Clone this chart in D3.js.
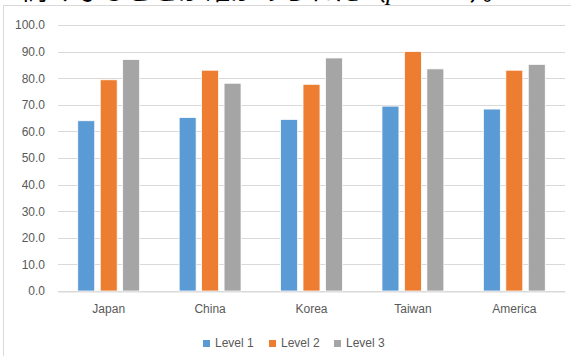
<!DOCTYPE html>
<html>
<head>
<meta charset="utf-8">
<script src="https://cdn.jsdelivr.net/npm/d3@7"></script>
<style>
  html, body { margin: 0; padding: 0; background: #fff; overflow: hidden; }
  svg { display: block; }
</style>
</head>
<body>
<div id="chart"></div>
<script>
// data
var categories = ["Japan", "China", "Korea", "Taiwan", "America"];
var seriesNames = ["Level 1", "Level 2", "Level 3"];
var level1 = [64.0, 65.2, 64.5, 69.5, 68.4];
var level2 = [79.4, 83.0, 77.7, 90.0, 83.0];
var level3 = [87.0, 78.1, 87.6, 83.5, 85.2];
var yTicks = [0, 10, 20, 30, 40, 50, 60, 70, 80, 90, 100];
var colors = ["#5b9bd5", "#ed7d31", "#a5a5a5"];

var w = 571, h = 356;
var margin = { top: 25, right: 6, bottom: 65, left: 58 };

var svg = d3.select("#chart").append("svg")
    .attr("width", w)
    .attr("height", h);

// cut-off caption line above the chart
var cap = svg.append("text")
    .attr("x", 22)
    .attr("y", 0)
    .style("font-family", "'Noto Sans CJK JP', sans-serif")
    .style("font-size", "26px")
    .style("fill", "#000");
cap.append("tspan").text("高くなることが確かめられた（");
cap.append("tspan").style("font-family", "'Liberation Serif', serif").style("font-style", "italic").text("ps");
cap.append("tspan").style("font-family", "'Liberation Serif', serif").text(" < .05");
cap.append("tspan").text("）。");

// chart area frame
svg.append("rect")
    .attr("x", 3.5)
    .attr("y", 5.5)
    .attr("width", 600)
    .attr("height", 400)
    .attr("fill", "#fff")
    .attr("stroke", "#d9d9d9")
    .attr("stroke-width", 1);

var x0 = d3.scaleBand()
    .domain(categories)
    .range([margin.left, w - margin.right])
    .paddingInner(0.39)
    .paddingOuter(0.195);

var x1 = d3.scaleBand()
    .domain(seriesNames)
    .range([0, x0.bandwidth()])
    .paddingInner(0.245);

var y = d3.scaleLinear()
    .domain([0, 100])
    .range([h - margin.bottom, margin.top]);

// gridlines
svg.append("g")
    .selectAll("line")
    .data(yTicks)
    .enter().append("line")
    .attr("x1", margin.left)
    .attr("x2", w - margin.right)
    .attr("y1", function (d) { return Math.round(y(d)) + 0.5; })
    .attr("y2", function (d) { return Math.round(y(d)) + 0.5; })
    .attr("stroke", "#d9d9d9")
    .attr("stroke-width", 1);

// y labels
var yAxis = svg.append("g")
    .attr("transform", "translate(" + (margin.left - 4) + ",0)")
    .call(d3.axisLeft(y).tickValues(yTicks).tickFormat(d3.format(".1f")).tickSize(0).tickPadding(9));
yAxis.select(".domain").remove();
yAxis.selectAll("text")
    .style("font-family", "'Liberation Sans', Arial, sans-serif")
    .style("font-size", "12px")
    .style("fill", "#595959");

// bars
var table = categories.map(function (c, i) {
    return { key: c, values: [level1[i], level2[i], level3[i]] };
});

var groups = svg.append("g")
    .selectAll("g")
    .data(table)
    .enter().append("g")
    .attr("transform", function (d) { return "translate(" + x0(d.key) + ",0)"; });

groups.selectAll("rect")
    .data(function (d) {
        return seriesNames.map(function (s, j) { return { name: s, value: d.values[j], idx: j }; });
    })
    .enter().append("rect")
    .attr("x", function (d) { return x1(d.name); })
    .attr("y", function (d) { return y(d.value); })
    .attr("width", x1.bandwidth())
    .attr("height", function (d) { return y(0) - y(d.value); })
    .attr("fill", function (d) { return colors[d.idx]; })
    .attr("stroke", "#fff")
    .attr("stroke-width", 0.75);

// x axis
var xAxis = svg.append("g")
    .attr("transform", "translate(0," + (Math.round(y(0)) + 0.5) + ")")
    .call(d3.axisBottom(x0).tickSize(0).tickPadding(13));
xAxis.select(".domain")
    .attr("stroke", "#d9d9d9");
xAxis.selectAll("text")
    .style("font-family", "'Liberation Sans', Arial, sans-serif")
    .style("font-size", "12px")
    .style("fill", "#595959");

// legend
var legendX = [203, 269, 334];
var legend = svg.append("g")
    .selectAll("g")
    .data(seriesNames)
    .enter().append("g")
    .attr("transform", function (d, i) { return "translate(" + legendX[i] + ",340)"; });

legend.append("rect")
    .attr("width", 7)
    .attr("height", 7)
    .attr("fill", function (d, i) { return colors[i]; });

legend.append("text")
    .attr("x", 12)
    .attr("y", 7)
    .style("font-family", "'Liberation Sans', Arial, sans-serif")
    .style("font-size", "12px")
    .style("fill", "#595959")
    .text(function (d) { return d; });
</script>
</body>
</html>
